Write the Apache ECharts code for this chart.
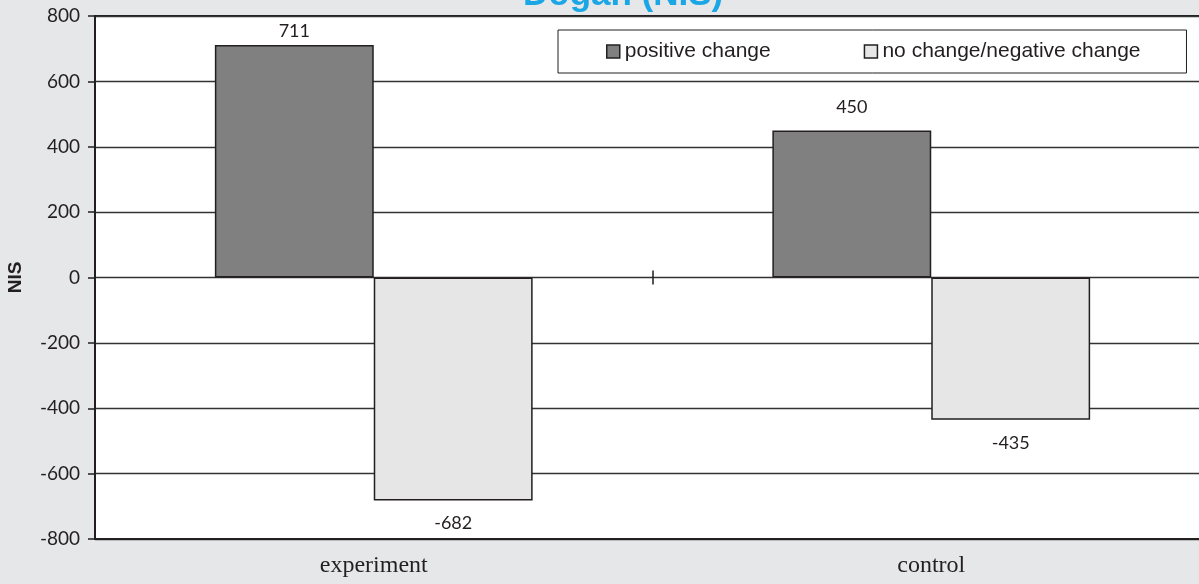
<!DOCTYPE html>
<html>
<head>
<meta charset="utf-8">
<script src="https://cdn.jsdelivr.net/npm/echarts@6/dist/echarts.min.js"></script>
<style>
  html, body { margin: 0; padding: 0; background: #E6E7E8; }
  #chart { width: 1199px; height: 584px; }
</style>
</head>
<body>
<div id="chart"></div>
<script>
// Income change by group, in NIS
const categories = ['experiment', 'control'];
const positiveChange = [711, 450];
const noOrNegativeChange = [-682, -435];
const seriesNames = ['positive change', 'no change/negative change'];
const yTicks = { min: -800, max: 800, step: 200 };

const INK = '#231F20';
const GRID_TOP = 16;

const chart = echarts.init(document.getElementById('chart'), null, { renderer: 'canvas' });

const barLabel = {
  show: true,
  position: 'outside',
  distance: 14,
  fontFamily: 'Lato',
  fontSize: 18,
  color: INK
};

// zero-line cross tick between the two groups
const zeroTickAxis = (position) => ({
  type: 'category',
  data: categories,
  position: position,
  axisLine: { show: false, onZero: true, onZeroAxisIndex: 0 },
  axisTick: { show: true, length: 7, lineStyle: { color: INK, width: 1.5 } },
  axisLabel: { show: false },
  splitLine: { show: false }
});

chart.setOption({
  backgroundColor: '#E6E7E8',
  animation: false,
  title: {
    text: 'Dogan (NIS)',
    left: 523,
    top: -22,
    padding: 0,
    textStyle: {
      color: '#1BA6E6',
      fontFamily: 'Liberation Sans',
      fontWeight: 'bold',
      fontSize: 35
    }
  },
  legend: {
    data: seriesNames,
    left: 558,
    top: 30,
    padding: [11, 46, 11, 48],
    itemGap: 93,
    itemWidth: 13,
    itemHeight: 13,
    icon: 'rect',
    backgroundColor: '#ffffff',
    borderColor: INK,
    borderWidth: 1,
    itemStyle: { borderColor: INK, borderWidth: 1.5 },
    textStyle: { fontFamily: 'Liberation Sans', fontSize: 21, color: INK }
  },
  grid: {
    left: 95,
    width: 1115,
    top: GRID_TOP,
    bottom: 45,
    outerBoundsMode: 'none',
    containLabel: false,
    show: true,
    backgroundColor: '#ffffff',
    borderColor: INK,
    borderWidth: 2
  },
  xAxis: [
    {
      type: 'category',
      data: categories,
      position: 'bottom',
      axisLine: { show: true, onZero: false, lineStyle: { color: INK, width: 2 } },
      axisTick: { show: false },
      axisLabel: {
        fontFamily: 'Liberation Serif',
        fontSize: 24,
        color: INK,
        margin: 15
      },
      splitLine: { show: false }
    },
    zeroTickAxis('bottom'),
    zeroTickAxis('top')
  ],
  yAxis: {
    type: 'value',
    min: yTicks.min,
    max: yTicks.max,
    interval: yTicks.step,
    name: 'NIS',
    nameLocation: 'middle',
    nameGap: 70,
    nameTextStyle: {
      fontFamily: 'Liberation Sans',
      fontWeight: 'bold',
      fontSize: 19,
      color: INK
    },
    axisLine: { show: true, lineStyle: { color: INK, width: 2 } },
    axisTick: { show: true, length: 7, lineStyle: { color: INK, width: 1.5 } },
    axisLabel: { fontFamily: 'Lato', fontSize: 19, color: INK, margin: 15 },
    splitLine: { show: true, lineStyle: { color: '#333333', width: 1.3 } }
  },
  series: [
    {
      name: seriesNames[0],
      type: 'bar',
      xAxisIndex: 0,
      data: positiveChange,
      barGap: '0%',
      barCategoryGap: '43%',
      itemStyle: { color: '#808080', borderColor: INK, borderWidth: 1.5 },
      label: barLabel
    },
    {
      name: seriesNames[1],
      type: 'bar',
      xAxisIndex: 0,
      data: noOrNegativeChange,
      barGap: '0%',
      barCategoryGap: '43%',
      itemStyle: { color: '#E6E6E6', borderColor: INK, borderWidth: 1.5 },
      label: barLabel
    }
  ],
  // keep value labels inside the plot area
  labelLayout: function (params) {
    const r = params.labelRect;
    const minTop = GRID_TOP + 6;
    if (r.y < minTop) {
      return { y: minTop + r.height / 2, verticalAlign: 'middle', align: 'center', x: r.x + r.width / 2 };
    }
    return {};
  }
});
</script>
</body>
</html>
